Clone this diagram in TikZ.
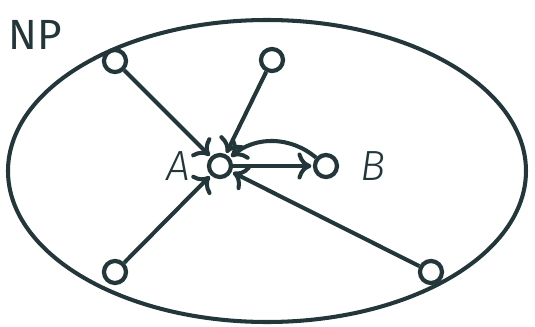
\documentclass[tikz,border=0pt]{standalone}
\usepackage{fontspec}
\setmainfont{Fira Sans}[UprightFont=* Light, ItalicFont=* Light Italic]
\newfontfamily\npfont{Fira Sans}
\usepackage{tikz}
\usetikzlibrary{arrows.meta,positioning}
\definecolor{mdark}{HTML}{23373B}

\begin{document}
\begin{tikzpicture}[x=0.01cm, y=-0.01cm,
      vert/.style={draw=mdark, circle, line width=1.2pt, inner sep=0pt,
                   minimum size=0.22cm},
      lbl/.style={text=mdark, font=\fontsize{12}{14}\selectfont\itshape},
      arr/.style={-{To[length=1.4mm, width=2.7mm]}, line width=1.15pt,
                  color=mdark, shorten >=0.4pt}
  ]
    \useasboundingbox (0,0) rectangle (535,327);
    \draw[mdark, line width=1.15pt] (267,171) ellipse [x radius=259, y radius=151];
    \node[text=mdark, font=\npfont\fontsize{12}{14}\selectfont] (np) at (35,35) {NP};
    % vertices
    \node[vert] (a) at (220,166) {};
    \node[vert] (b) at (326,166) {};
    \node[vert] (u1) at (115,61) {};
    \node[vert] (u2) at (272,60) {};
    \node[vert] (u3) at (115,272) {};
    \node[vert] (u4) at (431,272) {};
    \node[lbl, left=0.04cm of a] (la) {A};
    \node[lbl, right=0.09cm of b] (lb) {B};
    % edges
    \draw[arr] (u1)--(a); \draw[arr] (u2)--(a);
    \draw[arr] (u3)--(a); \draw[arr] (u4)--(a);
    \draw[arr] (a)--(b);
    \draw[arr] (b) to[bend right=40] (a);
  \end{tikzpicture}
\end{document}
